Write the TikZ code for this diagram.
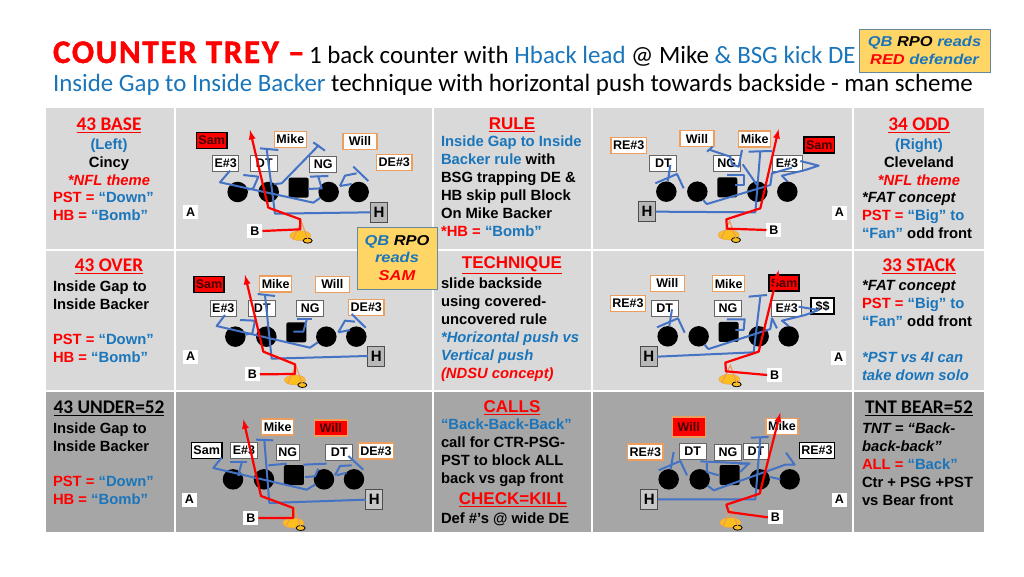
\documentclass[tikz,border=0pt]{standalone}
\usepackage{fontspec}
\setmainfont{Liberation Sans}
\newfontfamily\titlefont{Carlito}
\newfontfamily\heavyfont[FakeBold=1.2,LetterSpace=5]{Carlito Bold}
\newfontfamily\rpofont[FakeStretch=1.15]{Liberation Sans Bold Italic}
\definecolor{R}{RGB}{255,0,0}
\definecolor{U}{RGB}{26,117,187}
\definecolor{O}{RGB}{237,157,92}
\definecolor{P}{RGB}{68,114,196}
\definecolor{Y}{RGB}{255,214,102}
\definecolor{Q}{RGB}{250,190,30}
\definecolor{G}{RGB}{217,217,217}
\definecolor{D}{RGB}{166,166,166}
\usetikzlibrary{arrows}
\usetikzlibrary{positioning}
\usetikzlibrary{shapes.geometric}
\tikzstyle{base}=[x=1pt, y=-1pt, inner sep=0pt, outer sep=0pt]
\tikzstyle{panel}=[x=0.3333pt, y=-0.3333pt]
\tikzstyle{lab}=[font=\fontsize{12.5}{14}\selectfont\bfseries, minimum height=16pt, inner xsep=2pt, fill=white, text=black]
\tikzstyle{labo}=[lab, draw=O, line width=1.3pt]
\tikzstyle{labg}=[lab, draw=black!60, line width=0.8pt]
\tikzstyle{labk}=[lab, draw=black, line width=1.5pt]
\tikzstyle{labr}=[lab, draw=black, line width=1.5pt, fill=R]
\tikzstyle{labx}=[lab, draw=O, line width=1.3pt, fill=R]
\tikzstyle{gapl}=[lab, minimum width=15pt, minimum height=14pt]
\tikzstyle{hb}=[lab, draw=black!70, line width=0.8pt, fill=black!28, minimum width=17pt, minimum height=20pt, font=\fontsize{15}{16}\selectfont\bfseries]
\tikzstyle{man}=[circle, fill=black, minimum size=20.5pt]
\tikzstyle{ctr}=[rectangle, rounded corners=2pt, fill=black, minimum size=20pt]
\tikzstyle{blk}=[draw=P, line width=2pt, line join=round]
\tikzstyle{rt}=[draw=R, line width=2.2pt, line join=round]
\tikzstyle{txt}=[anchor=north west, align=left, yshift=-2.5pt, font=\fontsize{14.8}{18}\selectfont\bfseries, execute at begin node=\strut]
\tikzstyle{mid}=[txt, anchor=north, align=center]
\tikzstyle{hd}=[anchor=center, yshift=-1.5pt, font=\titlefont\fontsize{19.3}{20}\selectfont\bfseries]
\tikzstyle{hda}=[anchor=center, yshift=-1.5pt, font=\fontsize{17}{20}\selectfont\bfseries]
\tikzstyle{call}=[draw=black!40!cyan!60!gray, line width=1pt, fill=Y]
\tikzstyle{rpo}=[font=\rpofont\fontsize{14.3}{17.7}\selectfont, align=center]
\newcommand*{\oline}[3]{%
  \node [man] (#1a) at (#2,#3) {};
  \node [man] (#1b) at (#2 + 93,#3) {};
  \node [ctr] (#1c) at (#2 + 183,#3 - 13) {};
  \node [man] (#1d) at (#2 + 273,#3) {};
  \node [man] (#1e) at (#2 + 363,#3) {};
}
\newcommand*{\qbk}[3]{%
  \node [ellipse, fill=Q, draw=O, minimum width=21pt, minimum height=10pt] (#1q) at (#2,#3) {};
  \node [ellipse, fill=Q, draw=black, line width=0.8pt, minimum width=9pt, minimum height=5pt] (#1f) at (#2 + 22,#3 + 15) {};
  \draw [O, line width=1.2pt] (#1q.south west) -- (#2 + 3,#3 - 42) -- (#1q.south east);
}
\begin{document}
\begin{tikzpicture}[base]
    \useasboundingbox (0,0) rectangle (1024,576);
    \fill [white] (0,0) rectangle (1024,576);
    \node [anchor=base west, font=\heavyfont\fontsize{33}{34}\selectfont, text=R] (titleA) at (53,63) {COUNTER TREY –};
    \node [anchor=base west, font=\titlefont\fontsize{24.9}{30}\selectfont] (titleB) at (309,63) {1 back counter with \textcolor{U}{Hback lead} @ Mike \textcolor{U}{\& BSG kick DE}};
    \node [anchor=base west, font=\titlefont\fontsize{24.9}{30}\selectfont] (titleC) at (53,91) {\textcolor{U}{Inside Gap to Inside Backer} technique with horizontal push towards backside - man scheme};
    % cells
    \fill [G] (46,108) rectangle (174,249);
    \fill [G] (176,108) rectangle (432,249);
    \fill [G] (434,108) rectangle (591,249);
    \fill [G] (593,108) rectangle (852,249);
    \fill [G] (854,108) rectangle (984,249);
    \fill [G] (46,251) rectangle (174,390);
    \fill [G] (176,251) rectangle (432,390);
    \fill [G] (434,251) rectangle (591,390);
    \fill [G] (593,251) rectangle (852,390);
    \fill [G] (854,251) rectangle (984,390);
    \fill [D] (46,392) rectangle (174,532);
    \fill [D] (176,392) rectangle (432,532);
    \fill [D] (434,392) rectangle (591,532);
    \fill [D] (593,392) rectangle (852,532);
    \fill [D] (854,392) rectangle (984,532);
    % left column
    \node [hd, text=R] (headA) at (109,124) {\underline{43 BASE}};
    \node [mid] (leftA) at (109,136) {\textcolor{U}{(Left)}\\Cincy\\\textcolor{R}{\itshape *NFL theme}};
    \node [txt] (leftB) at (53,190) {\textcolor{R}{PST = }\textcolor{U}{“Down”}\\\textcolor{R}{HB = }\textcolor{U}{“Bomb”}};
    \node [hd, text=R] (headB) at (109,265) {\underline{43 OVER}};
    \node [txt] (leftC) at (53,278) {Inside Gap to\\Inside Backer};
    \node [txt] (leftD) at (53,332) {\textcolor{R}{PST = }\textcolor{U}{“Down”}\\\textcolor{R}{HB = }\textcolor{U}{“Bomb”}};
    \node [hd] (headC) at (109,407) {\underline{43 UNDER=52}};
    \node [txt] (leftE) at (53,420) {Inside Gap to\\Inside Backer};
    \node [txt] (leftF) at (53,474) {\textcolor{R}{PST = }\textcolor{U}{“Down”}\\\textcolor{R}{HB = }\textcolor{U}{“Bomb”}};
    % middle column
    \node [hda, text=R] (headD) at (512,123) {\underline{RULE}};
    \node [txt] (midA) at (441,133) {\textcolor{U}{Inside Gap to Inside}\\\textcolor{U}{Backer rule} with\\BSG trapping DE \&\\HB skip pull Block\\On Mike Backer\\\textcolor{R}{*HB = }\textcolor{U}{“Bomb”}};
    \node [hda, text=R] (headE) at (512,264) {\underline{TECHNIQUE}};
    \node [txt] (midB) at (441,275) {slide backside\\using covered-\\uncovered rule\\\textcolor{U}{\itshape *Horizontal push vs}\\\textcolor{U}{\itshape Vertical push}\\\textcolor{R}{\itshape (NDSU concept)}};
    \node [hda, text=R] (headF) at (512,406) {\underline{CALLS}};
    \node [txt] (midC) at (441,416) {\textcolor{U}{“Back-Back-Back”}\\call for CTR-PSG-\\PST to block ALL\\back vs gap front};
    \node [hda, text=R] (headG) at (513,498) {\underline{CHECK=KILL}};
    \node [txt] (midD) at (441,508) {Def \#’s @ wide DE};
    % right column
    \node [hd, text=R] (headH) at (919,124) {\underline{34 ODD}};
    \node [mid] (rightA) at (919,136) {\textcolor{U}{(Right)}\\Cleveland\\\textcolor{R}{\itshape *NFL theme}};
    \node [txt] (rightB) at (862,190) {\textit{*FAT concept}\\\textcolor{R}{PST = }\textcolor{U}{“Big” to}\\\textcolor{U}{“Fan”} odd front};
    \node [hd, text=R] (headI) at (919,265) {\underline{33 STACK}};
    \node [txt] (rightC) at (862,278) {\textit{*FAT concept}\\\textcolor{R}{PST = }\textcolor{U}{“Big” to}\\\textcolor{U}{“Fan”} odd front};
    \node [txt] (rightD) at (862,350) {\textcolor{U}{\itshape *PST vs 4I can}\\\textcolor{U}{\itshape take down solo}};
    \node [hd] (headJ) at (919,407) {\underline{TNT BEAR=52}};
    \node [txt] (rightE) at (862,420) {\textit{TNT = “Back-}\\\textit{back-back”}\\\textcolor{R}{ALL = }\textcolor{U}{“Back”}\\Ctr + PSG +PST\\vs Bear front};
    % 43 base
    \begin{scope}[shift={(175,105)}, panel]
        \oline{a}{188}{261}
        \qbk{a}{376}{392}
        \node [labr] (aSam) at (110,106) {\textcolor{black!75!red}{Sam}};
        \node [labo] (aMike) at (346,103) {Mike};
        \node [labo, minimum width=34pt] (aWill) at (555,109) {Will};
        \node [labg] (aE) at (152,176) {E\#3};
        \node [labg, minimum width=27pt] (aDT) at (268,175) {DT};
        \node [labg, minimum width=27pt] (aNG) at (445,178) {NG};
        \node [labo] (aDE) at (658,172) {DE\#3};
        \node [gapl] (aA) at (47,322) {A};
        \node [gapl] (aB) at (240,378) {B};
        \node [hb] (aH) at (612,322) {H};
        \draw [blk] (aH.west) -- (300,326) -- (275,132);
        \draw [blk] (255,130) -- (310,135);
        \draw [blk] (ad) -- (415,293) -- (135,232) -- (165,197);
        \draw [blk] (205,210) -- (250,215) -- (235,250) -- (aa);
        \draw [blk] (ab) -- (300,237) -- (320,235) -- (432,120);
        \draw [blk] (415,112) -- (450,137);
        \draw [blk] (405,215) -- (460,213);
        \draw [blk] (430,215) -- (440,250) -- (400,252);
        \draw [blk] (495,243) -- (510,212) -- (545,205);
        \draw [blk] (535,185) -- (580,228);
        \draw [blk] (495,243) -- (530,237);
        \draw [rt, -latex] (aB.east) -- (376,373) -- (376,343) -- (280,308) -- (225,75);
    \end{scope}
    % 34 odd
    \begin{scope}[shift={(592,105)}, panel]
        \oline{b}{223}{260}
        \qbk{b}{410}{390}
        \node [labo] (bRE) at (110,122) {RE\#3};
        \node [labg, minimum width=27pt] (bDT) at (214,175) {DT};
        \node [labo, minimum width=34pt] (bWill) at (315,101) {Will};
        \node [labg, minimum width=27pt] (bNG) at (404,175) {NG};
        \node [labo] (bMike) at (488,102) {Mike};
        \node [labg, minimum width=30pt] (bE) at (585,175) {E\#3};
        \node [labr] (bSam) at (682,120) {\textcolor{black!75!red}{Sam}};
        \node [gapl] (bA) at (742,323) {A};
        \node [gapl] (bB) at (546,375) {B};
        \node [hb] (bH) at (165,320) {H};
        \draw [blk] (bH.east) -- (490,322) -- (505,138);
        \draw [blk] (470,140) -- (540,138);
        \draw [blk] (bb) -- (340,293) -- (345,297) -- (535,240) -- (540,205) -- (600,188);
        \draw [blk] (be.north) -- (570,212) -- (640,195) -- (680,182) -- (625,168);
        \draw [blk] (ba) -- (235,180);
        \draw [blk] (190,235) -- (255,207) -- (275,250);
        \draw [blk] (405,210) -- (457,210) -- (457,240) -- (430,240);
        \draw [blk] (345,140) -- (362,125);
        \draw [blk] (355,135) -- (415,155) -- (420,178) -- (440,185) -- (450,135);
        \draw [blk] (452,178) -- (495,240);
        \draw [rt, -latex] (bB.west) -- (405,371) -- (403,343) -- (505,310) -- (560,72);
    \end{scope}
    % 43 over
    \begin{scope}[shift={(175,250)}, panel]
        \oline{c}{181}{260}
        \qbk{c}{360}{390}
        \node [labr] (cSam) at (102,103) {\textcolor{black!75!red}{Sam}};
        \node [labo] (cMike) at (302,102) {Mike};
        \node [labo, minimum width=34pt] (cWill) at (472,103) {Will};
        \node [labg] (cE) at (145,174) {E\#3};
        \node [labg, minimum width=27pt] (cDT) at (262,174) {DT};
        \node [labg, minimum width=27pt] (cNG) at (406,176) {NG};
        \node [labo] (cDE) at (574,173) {DE\#3};
        \node [gapl] (cA) at (47,320) {A};
        \node [gapl] (cB) at (232,373) {B};
        \node [hb] (cH) at (604,318) {H};
        \draw [blk] (cH.west) -- (290,326) -- (270,135);
        \draw [blk] (248,132) -- (300,138);
        \draw [blk] (cd) -- (405,293) -- (125,228) -- (150,195);
        \draw [blk] (195,210) -- (240,212) -- (232,250) -- (ca);
        \draw [blk] (365,207) -- (412,207);
        \draw [blk] (395,210) -- (385,245) -- (355,245);
        \draw [blk] (490,247) -- (510,212) -- (540,215);
        \draw [blk] (530,192) -- (572,233);
        \draw [blk] (490,247) -- (525,240);
        \draw [rt, -latex] (cB.east) -- (360,372) -- (360,343) -- (265,305) -- (210,75);
    \end{scope}
    % 33 stack
    \begin{scope}[shift={(592,250)}, panel]
        \oline{d}{227}{259}
        \qbk{d}{412}{388}
        \node [labo, minimum width=34pt] (dWill) at (226,100) {Will};
        \node [labo] (dMike) at (410,101) {Mike};
        \node [labr] (dSam) at (576,99) {\textcolor{black!75!red}{Sam}};
        \node [labo] (dRE) at (108,161) {RE\#3};
        \node [labg, minimum width=27pt] (dDT) at (218,174) {DT};
        \node [labg, minimum width=27pt] (dNG) at (408,174) {NG};
        \node [labg, minimum width=30pt] (dE) at (584,174) {E\#3};
        \node [labk, minimum width=23pt] (dSS) at (692,168) {\$\$};
        \node [gapl] (dA) at (740,323) {A};
        \node [gapl] (dB) at (548,375) {B};
        \node [hb] (dH) at (170,320) {H};
        \draw [blk] (dH.east) -- (485,307) -- (505,140);
        \draw [blk] (470,140) -- (525,135);
        \draw [blk] (db) -- (345,293) -- (350,297) -- (535,237) -- (540,205) -- (555,235);
        \draw [blk] (de.north) -- (570,212) -- (640,195) -- (680,180) -- (620,170);
        \draw [blk] (da) -- (240,178);
        \draw [blk] (195,232) -- (258,205) -- (278,248);
        \draw [blk] (405,208) -- (458,208) -- (455,240) -- (430,240);
        \draw [rt, -latex] (dB.west) -- (402,364) -- (400,338) -- (500,305) -- (560,60);
    \end{scope}
    % 43 under
    \begin{scope}[shift={(175,392)}, panel]
        \oline{e}{174}{262}
        \qbk{e}{355}{393}
        \node [labo] (eMike) at (308,105) {Mike};
        \node [labx, minimum width=33pt] (eWill) at (467,108) {\textcolor{black!75!red}{Will}};
        \node [labk] (eSam) at (95,175) {Sam};
        \node [labg] (eE) at (207,176) {E\#3};
        \node [labg, minimum width=23pt] (eNG) at (338,180) {NG};
        \node [labg, minimum width=27pt] (eDT) at (493,180) {DT};
        \node [labo] (eDE) at (603,177) {DE\#3};
        \node [gapl] (eA) at (43,323) {A};
        \node [gapl] (eB) at (228,378) {B};
        \node [hb, fill=black!22] (eH) at (598,323) {H};
        \draw [blk] (eH.west) -- (283,333) -- (268,145);
        \draw [blk] (243,143) -- (295,145);
        \draw [blk] (ed) -- (395,293) -- (115,228) -- (140,197);
        \draw [blk] (165,210) -- (215,210);
        \draw [blk] (200,212) -- (190,250) -- (ea);
        \draw [blk] (280,220) -- (335,215);
        \draw [blk] (385,218) -- (455,215);
        \draw [blk] (430,230) -- (420,253) -- (390,255);
        \draw [blk] (480,250) -- (495,222) -- (530,220);
        \draw [blk] (520,192) -- (565,233);
        \draw [blk] (485,250) -- (515,242);
        \draw [rt, -latex] (eB.east) -- (355,378) -- (355,348) -- (258,312) -- (205,82);
    \end{scope}
    % tnt bear
    \begin{scope}[shift={(592,392)}, panel]
        \oline{f}{230}{262}
        \qbk{f}{415}{392}
        \node [labx, minimum width=33pt, minimum height=20pt] (fWill) at (290,105) {\textcolor{black!75!red}{Will}};
        \node [labo] (fMike) at (570,103) {Mike};
        \node [labo] (fRE) at (160,180) {RE\#3};
        \node [labg, minimum width=27pt] (fDT) at (302,178) {DT};
        \node [labg, minimum width=27pt] (fNG) at (408,180) {NG};
        \node [labg, minimum width=25pt] (fDTb) at (492,178) {DT};
        \node [labk] (fREb) at (675,175) {RE\#3};
        \node [gapl] (fA) at (742,323) {A};
        \node [gapl] (fB) at (550,376) {B};
        \node [hb, fill=black!22] (fH) at (172,322) {H};
        \draw [blk] (fH.east) -- (490,322) -- (505,138);
        \draw [blk] (477,137) -- (530,135);
        \draw [blk] (fb) -- (365,295) -- (580,218) -- (608,218) -- (582,182);
        \draw [blk] (fa) -- (245,180);
        \draw [blk] (200,235) -- (265,207) -- (285,250);
        \draw [blk] (325,208) -- (475,215);
        \draw [blk] (380,250) -- (345,240) -- (345,213);
        \draw [blk] (440,215) -- (470,215) -- (445,240);
        \draw [blk] (535,255) -- (565,262);
        \draw [rt, -latex] (fB.west) -- (410,360) -- (403,338) -- (503,305) -- (565,62);
    \end{scope}
    % rpo boxes
    \node [call, minimum width=80pt, minimum height=62pt, rpo] (boxA) at (397,258) {\textcolor{U}{QB} \textcolor{black}{RPO}\\\textcolor{U}{reads}\\\textcolor{R}{SAM}};
    \node [call, minimum width=131pt, minimum height=43pt, rpo] (boxB) at (924.5,50.5) {\textcolor{U}{QB} \textcolor{black}{RPO} \textcolor{U}{reads}\\\textcolor{R}{RED} \textcolor{U}{defender}};
\end{tikzpicture}
\end{document}
